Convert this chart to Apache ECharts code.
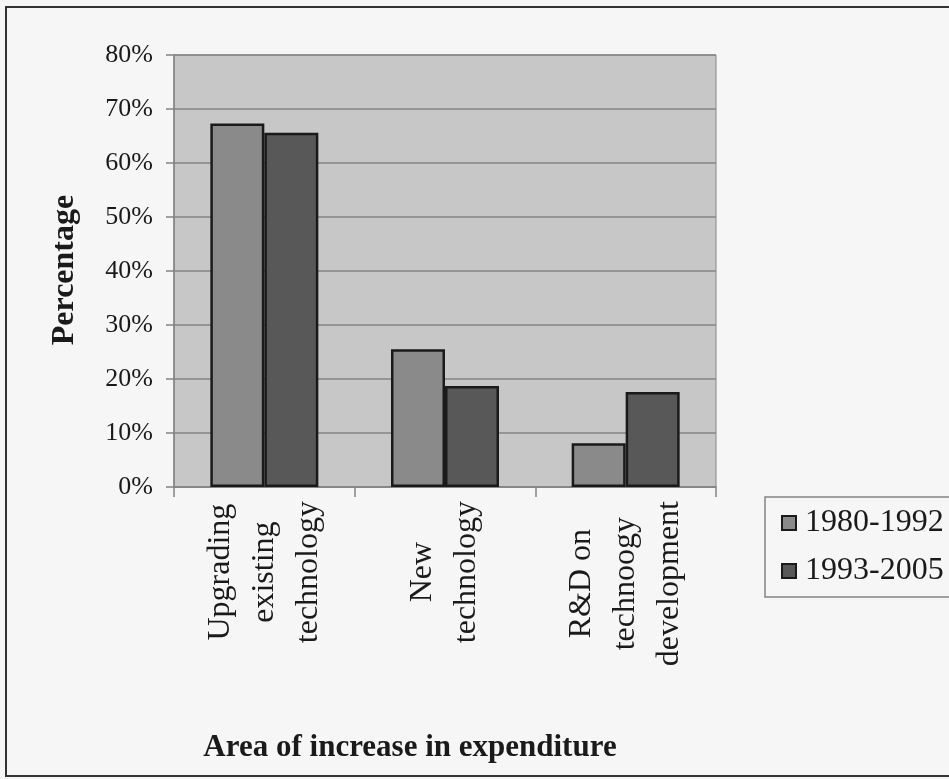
<!DOCTYPE html>
<html>
<head>
<meta charset="utf-8">
<script src="https://cdn.jsdelivr.net/npm/echarts@6/dist/echarts.min.js"></script>
<style>
html,body{margin:0;padding:0;background:#f6f6f6;}
#c{width:949px;height:779px;}
</style>
</head>
<body>
<div id="c"></div>
<script>
const categories = ['Upgrading\nexisting\ntechnology', 'New\ntechnology', 'R&D on\ntechnoogy\ndevelopment'];
const seriesNames = ['1980-1992', '1993-2005'];
const values1980 = [67.3, 25.5, 8.1];
const values1993 = [65.6, 18.7, 17.6];
const yTicks = [0, 10, 20, 30, 40, 50, 60, 70, 80];

const FONT = '"Liberation Serif", "DejaVu Serif", serif';
const chart = echarts.init(document.getElementById('c'));
chart.setOption({
  backgroundColor: '#f6f6f6',
  animation: false,
  grid: {
    left: 174, top: 55, right: 233, bottom: 292,
    show: true, backgroundColor: '#c7c7c7', borderColor: '#848484', borderWidth: 1
  },
  legend: {
    orient: 'vertical',
    left: 765, top: 497,
    padding: [9, 20, 9, 16],
    itemGap: 14,
    itemWidth: 14, itemHeight: 14,
    icon: 'rect',
    backgroundColor: '#f6f6f6',
    borderColor: '#848484', borderWidth: 1.5,
    textStyle: { fontFamily: FONT, fontSize: 32, color: '#1a1a1a', lineHeight: 34, padding: [0, 0, 0, 4] },
    data: seriesNames
  },
  xAxis: {
    type: 'category',
    data: categories,
    boundaryGap: true,
    axisLine: { lineStyle: { color: '#848484', width: 1.5 } },
    axisTick: { show: true, length: 10, lineStyle: { color: '#848484', width: 1.5 } },
    axisLabel: {
      interval: 0, rotate: 90, margin: 14, color: '#1a1a1a',
      formatter: function (v) { return v.split('\n').map(function (s) { return '{c|' + s + '}'; }).join('\n'); },
      rich: { c: { align: 'center', fontFamily: FONT, fontSize: 32, lineHeight: 44, color: '#1a1a1a' } }
    }
  },
  yAxis: {
    type: 'value',
    min: yTicks[0], max: yTicks[yTicks.length - 1], interval: 10,
    axisLine: { show: true, lineStyle: { color: '#848484', width: 1.5 } },
    axisTick: { show: true, length: 8, lineStyle: { color: '#848484', width: 1.5 } },
    splitLine: { show: true, lineStyle: { color: '#848484', width: 1.5 } },
    axisLabel: { formatter: '{value}%', fontFamily: FONT, fontSize: 26, color: '#1a1a1a', margin: 21 }
  },
  series: [
    {
      name: seriesNames[0], type: 'bar', data: values1980, barWidth: 54, barGap: '0%',
      itemStyle: { color: '#8a8a8a', borderColor: '#1a1a1a', borderWidth: 2.5 }
    },
    {
      name: seriesNames[1], type: 'bar', data: values1993, barWidth: 54, barGap: '0%',
      itemStyle: { color: '#585858', borderColor: '#1a1a1a', borderWidth: 2.5 }
    }
  ],
  graphic: [
    { type: 'rect', shape: { x: 6, y: 7, width: 1000, height: 769 }, style: { fill: 'none', stroke: '#333', lineWidth: 2 }, z: 100 },
    { type: 'text', x: 65, y: 270, rotation: Math.PI / 2,
      style: { text: 'Percentage', align: 'center', verticalAlign: 'middle', font: 'bold 32px ' + FONT, fill: '#1a1a1a' } },
    { type: 'text', x: 410, y: 748,
      style: { text: 'Area of increase in expenditure', align: 'center', verticalAlign: 'middle', font: 'bold 31px ' + FONT, fill: '#1a1a1a' } }
  ]
});
</script>
</body>
</html>
